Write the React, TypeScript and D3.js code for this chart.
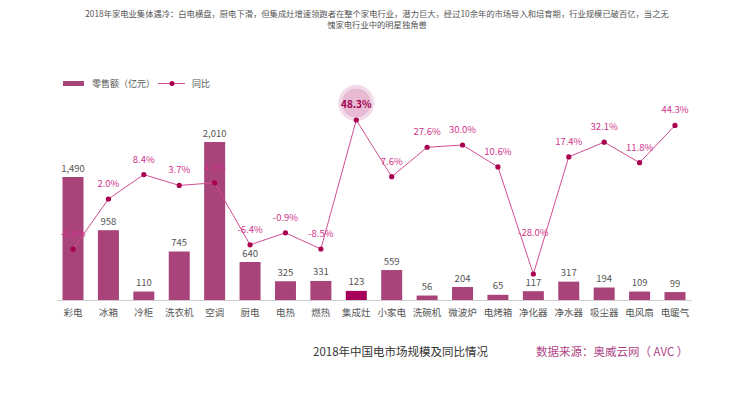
import React from "react";
import * as d3 from "d3";

const categories = ["彩电", "冰箱", "冷柜", "洗衣机", "空调", "厨电", "电热", "燃热", "集成灶", "小家电", "洗碗机", "微波炉", "电烤箱", "净化器", "净水器", "吸尘器", "电风扇", "电暖气"];
const sales = [1490, 958, 110, 745, 2010, 640, 325, 331, 123, 559, 56, 204, 65, 117, 317, 194, 109, 99];
const yoy = [-8.6, 2.0, 8.4, 3.7, 4.1, -6.4, -0.9, -8.5, 48.3, 7.6, 27.6, 30.0, 10.6, -28.0, 17.4, 32.1, 11.8, 44.3];
const highlight = "集成灶";
const titleLines = [
  "2018年家电业集体遇冷：白电横盘，厨电下滑，但集成灶增速领跑者在整个家电行业，潜力巨大，经过10余年的市场导入和培育期，行业规模已破百亿，当之无",
  "愧家电行业中的明星独角兽",
];
const legendBar = "零售额（亿元）";
const legendLine = "同比";
const footTitle = "2018年中国电市场规模及同比情况";
const footSource = "数据来源：奥威云网（ AVC ）";

const W = 750;
const H = 413;
const FONT = "'Noto Sans CJK SC', 'Noto Sans', sans-serif";

export default function App() {
  const x = d3.scalePoint<string>().domain(categories).range([73, 675]);
  const barW = 21;
  const baseY = 300;
  // polylinear scales mimicking the hand-tuned proportions of the original
  const yBar = d3
    .scaleLinear()
    .domain([0, 100, 560, 1490, 2010])
    .range([baseY, baseY - 8, baseY - 30, baseY - 123, baseY - 158]);
  const yPct = d3
    .scaleLinear()
    .domain([-28, -8.5, -1, 2, 4, 8, 12, 30, 48.3])
    .range([274, 249, 234, 199, 183, 176, 162, 145, 120]);

  const line = d3
    .line<number>()
    .x((_, i) => x(categories[i])!)
    .y((d) => yPct(d));

  const maxIdx = yoy.indexOf(d3.max(yoy)!);
  const minIdx = yoy.indexOf(d3.min(yoy)!);
  const pct = (v: number) => v.toFixed(1) + "%";

  return (
    <svg width={W} height={H} style={{ display: "block", position: "absolute", left: 0, top: 0 }} fontFamily={FONT}>
      <rect width={W} height={H} fill="#fff" />
      {titleLines.map((t, i) => (
        <text key={i} x={377} y={17 + i * 11} textAnchor="middle" fontSize={8.3} fill="#555">
          {t}
        </text>
      ))}

      {/* legend */}
      <rect x={63} y={81} width={21} height={5} fill="#a8447a" />
      <text x={92} y={86.5} fontSize={9} fill="#555">{legendBar}</text>
      <line x1={158} x2={185} y1={83.5} y2={83.5} stroke="#d04f92" strokeWidth={1} />
      <circle cx={172} cy={83.5} r={2.5} fill="#a8004f" />
      <text x={192} y={86.5} fontSize={9} fill="#555">{legendLine}</text>

      {/* axis line */}
      <line x1={57} x2={692} y1={baseY + 0.5} y2={baseY + 0.5} stroke="#cfcfcf" strokeWidth={1} />

      {/* bars */}
      {categories.map((c, i) => (
        <g key={c}>
          <rect
            x={x(c)! - barW / 2}
            y={yBar(sales[i])}
            width={barW}
            height={baseY - yBar(sales[i])}
            fill={c === highlight ? "#a6005a" : "#a8447a"}
          />
          <text x={x(c)!} y={yBar(sales[i]) - 5.5} textAnchor="middle" fontSize={9.5} fill="#555">
            {d3.format(",")(sales[i])}
          </text>
          <text x={x(c)!} y={316} textAnchor="middle" fontSize={9.5} fill="#555">
            {c}
          </text>
        </g>
      ))}

      {/* highlight bubble */}
      <circle cx={x(categories[maxIdx])!} cy={yPct(yoy[maxIdx]) - 17} r={18} fill="#f2dbe8" />
      <circle cx={x(categories[maxIdx])!} cy={yPct(yoy[maxIdx]) - 17} r={14.5} fill="#e8bad3" />

      {/* line */}
      <path d={line(yoy)!} fill="none" stroke="#d04f92" strokeWidth={1} />
      {yoy.map((v, i) => (
        <g key={i}>
          <circle cx={x(categories[i])!} cy={yPct(v)} r={2.6} fill="#a8004f" />
          <text
            x={x(categories[i])!}
            y={yPct(v) - (i === minIdx ? 38 : 12)}
            textAnchor="middle"
            fontSize={i === maxIdx ? 10 : 9.5}
            fontWeight={i === maxIdx ? "bold" : "normal"}
            fill={i === maxIdx ? "#a0004f" : "#d0338a"}
          >
            {pct(v)}
          </text>
        </g>
      ))}

      {/* footer */}
      <text x={313} y={356} fontSize={11.5} fill="#333">{footTitle}</text>
      <text x={536} y={356} fontSize={11.5} fill="#b04585">{footSource}</text>
    </svg>
  );
}
